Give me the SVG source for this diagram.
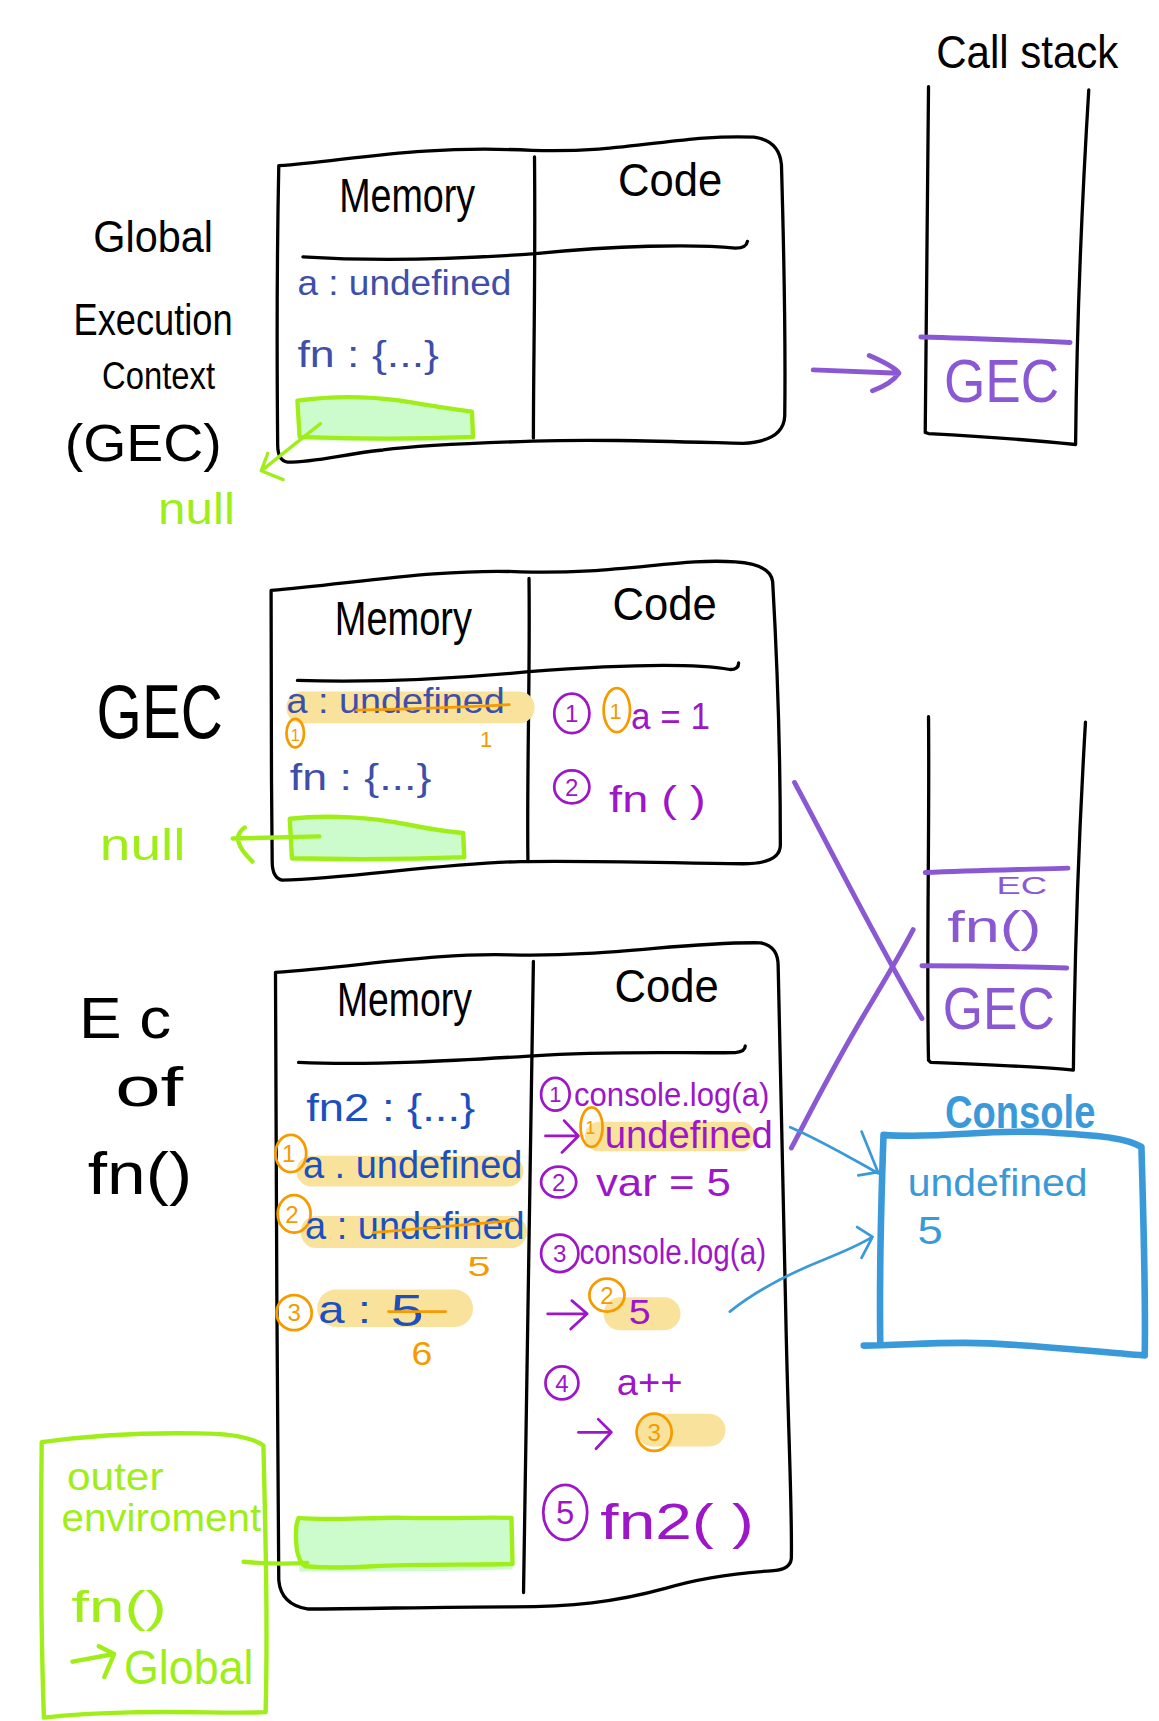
<svg xmlns="http://www.w3.org/2000/svg" width="1159" height="1721" viewBox="0 0 1159 1721">
<style>
text{font-family:"Liberation Sans","DejaVu Sans",sans-serif;}
.k{fill:#000}
.b1{fill:#3f4fa8}
.b2{fill:#1d4fbf}
.p{fill:#9d16c8}
.sp{fill:#8b58d4}
.o{fill:#f59b00}
.g{fill:#9fee1a}
.cb{fill:#3a9ad9}
.ln{fill:none;stroke:#000;stroke-width:3;stroke-linecap:round;stroke-linejoin:round}
.pl{fill:none;stroke:#8b58d4;stroke-width:4.5;stroke-linecap:round;stroke-linejoin:round}
.pc{fill:none;stroke:#9d16c8;stroke-width:2.5;stroke-linecap:round;stroke-linejoin:round}
.oc{fill:none;stroke:#f59b00;stroke-width:2.5;stroke-linecap:round;stroke-linejoin:round}
.hl{fill:#f8e29c}
.gf{fill:#ccfccc}
.gs{fill:none;stroke:#9fee1a;stroke-width:4;stroke-linecap:round;stroke-linejoin:round}
.cbx{fill:none;stroke:#3a9ad9;stroke-width:6;stroke-linecap:round;stroke-linejoin:round}
.ca{fill:none;stroke:#3a9ad9;stroke-width:2.5;stroke-linecap:round;stroke-linejoin:round}
</style>
<rect width="1159" height="1721" fill="#fff"/>
<g transform="scale(1.09754)">

<g id="gec-label">
<text class="k" x="85" y="230" font-size="40" textLength="109" lengthAdjust="spacingAndGlyphs">Global</text>
<text class="k" x="67" y="305" font-size="40" textLength="145" lengthAdjust="spacingAndGlyphs">Execution</text>
<text class="k" x="93" y="354" font-size="36" textLength="103" lengthAdjust="spacingAndGlyphs">Context</text>
<text class="k" x="59" y="420" font-size="48" textLength="143" lengthAdjust="spacingAndGlyphs">(GEC)</text>
</g>

<g id="call-stack-title">
<text class="k" x="853" y="62" font-size="42" textLength="166" lengthAdjust="spacingAndGlyphs">Call stack</text>
</g>

<g id="callstack-1">
<path class="ln" d="M846,79 C845,200 843,300 843,394 L846,395 C900,398 950,402 980,405 C981,300 986,180 992,82"/>
<path class="pl" d="M839,307 C880,308 930,310 975,312"/>
<text class="sp" x="860" y="366" font-size="56" textLength="105" lengthAdjust="spacingAndGlyphs">GEC</text>
</g>

<g id="gec-box-1">
<path class="ln" d="M254,151 C320,146 380,132 485,137 C570,140 620,122 687,125 Q710,128 712,150 C714,220 716,300 715,379 Q714,402 677,404 C600,402 540,400 485,402 C420,404 380,406 349,410 C310,414 290,421 262,421 Q253,420 253,405 C252,300 253,200 254,151 Z"/>
<path class="ln" d="M487,143 C488,250 486,330 486,399"/>
<path class="ln" d="M276,234 C340,238 420,236 488,231 C560,224 630,222 670,226 Q680,226 681,220"/>
<text class="k" x="309" y="193" font-size="44" textLength="124" lengthAdjust="spacingAndGlyphs">Memory</text>
<text class="k" x="563" y="179" font-size="42" textLength="95" lengthAdjust="spacingAndGlyphs">Code</text>
<text class="b1" x="271" y="269" font-size="32" textLength="195" lengthAdjust="spacingAndGlyphs">a : undefined</text>
<text class="b1" x="271" y="334" font-size="34" textLength="129" lengthAdjust="spacingAndGlyphs">fn : {...}</text>
<path class="gf" d="M273,366 C320,361 360,364 400,370 C415,372 425,374 431,375 L432,401 C380,403 320,402 275,401 Z"/>
<path class="gs" d="M271,365 C300,361 335,361 365,365 C395,370 415,373 430,375 L431,398 C380,400 320,400 273,398 Z"/>
<text class="g" x="144" y="477" font-size="40" textLength="70" lengthAdjust="spacingAndGlyphs">null</text>
</g>

<g id="gec-box-2-label">
<text class="k" x="88" y="672" font-size="70" textLength="115" lengthAdjust="spacingAndGlyphs">GEC</text>
</g>

<g id="gec-box-2">
<path class="ln" d="M247,538 C320,532 400,518 474,521 C560,524 620,508 670,512 Q702,514 704,530 C708,600 711,700 711,770 Q711,787 677,787 C600,786 540,784 474,785 C400,787 320,800 257,802 Q248,800 248,785 C247,700 247,600 247,538 Z"/>
<path class="ln" d="M482,527 C483,620 480,700 481,784"/>
<path class="ln" d="M271,620 C340,622 420,618 482,612 C560,606 630,604 665,610 Q673,610 673,604"/>
<text class="k" x="305" y="579" font-size="44" textLength="125" lengthAdjust="spacingAndGlyphs">Memory</text>
<text class="k" x="558" y="565" font-size="42" textLength="95" lengthAdjust="spacingAndGlyphs">Code</text>
<rect class="hl" x="261" y="630" width="226" height="29" rx="14"/>
<text class="b1" x="261" y="650" font-size="32" textLength="199" lengthAdjust="spacingAndGlyphs">a : undefined</text>
<path class="oc" d="M325,647 C380,646 430,644 464,642"/>
<ellipse class="oc" cx="269" cy="668" rx="8" ry="13"/>
<text class="o" x="269" y="675" font-size="15" text-anchor="middle">1</text>
<text class="o" x="443" y="681" font-size="20" text-anchor="middle">1</text>
<ellipse class="pc" cx="521" cy="650" rx="16" ry="18"/>
<text class="p" x="521" y="658" font-size="22" text-anchor="middle">1</text>
<ellipse class="oc" cx="562" cy="647" rx="12" ry="20"/>
<text class="o" x="561" y="655" font-size="20" text-anchor="middle">1</text>
<text class="p" x="575" y="664" font-size="34" textLength="72" lengthAdjust="spacingAndGlyphs">a = 1</text>
<text class="b1" x="264" y="720" font-size="34" textLength="129" lengthAdjust="spacingAndGlyphs">fn : {...}</text>
<ellipse class="pc" cx="521" cy="717" rx="16" ry="15"/>
<text class="p" x="521" y="725" font-size="22" text-anchor="middle">2</text>
<text class="p" x="555" y="740" font-size="34" textLength="88" lengthAdjust="spacingAndGlyphs">fn ( )</text>
<path class="gf" d="M266,747 C310,743 350,746 380,752 C400,755 415,757 423,758 L424,784 C370,786 310,786 266,785 Z"/>
<path class="gs" d="M264,746 C300,742 340,745 370,751 C395,756 410,758 422,759 L423,781 C370,783 310,783 266,782 Z"/>
<text class="g" x="91" y="784" font-size="40" textLength="78" lengthAdjust="spacingAndGlyphs">null</text>
</g>

<g id="callstack-2">
<path class="ln" d="M846,653 C847,760 844,880 846,966 L848,968 C900,970 950,972 978,975 C979,880 983,760 989,658"/>
<path class="pl" d="M843,795 C890,793 940,792 973,791"/>
<path class="pl" d="M840,880 C890,880 940,881 972,882"/>
<text class="sp" x="908" y="815" font-size="22" textLength="46" lengthAdjust="spacingAndGlyphs">EC</text>
<text class="sp" x="863" y="858" font-size="40" textLength="86" lengthAdjust="spacingAndGlyphs">fn()</text>
<text class="sp" x="859" y="938" font-size="54" textLength="102" lengthAdjust="spacingAndGlyphs">GEC</text>
</g>

<g id="ec-fn-label">
<text class="k" x="72" y="946" font-size="52" textLength="84" lengthAdjust="spacingAndGlyphs">E c</text>
<text class="k" x="105" y="1008" font-size="50" textLength="62" lengthAdjust="spacingAndGlyphs">of</text>
<text class="k" x="80" y="1088" font-size="54" textLength="95" lengthAdjust="spacingAndGlyphs">fn()</text>
</g>

<g id="ec-fn-box">
<path class="ln" d="M251,886 C330,880 400,868 465,870 C560,872 620,858 693,859 Q709,862 709,880 C712,1000 714,1100 716,1200 C718,1300 722,1380 721,1420 Q720,1430 705,1431 C660,1434 630,1440 607,1447 C560,1460 520,1464 467,1464 C400,1464 330,1466 280,1466 Q256,1462 254,1440 C252,1300 252,1000 251,886 Z"/>
<path class="ln" d="M486,876 C484,1100 478,1300 477,1451"/>
<path class="ln" d="M272,968 C340,971 420,966 486,962 C560,957 630,960 670,959 Q679,958 679,953"/>
<text class="k" x="307" y="926" font-size="44" textLength="123" lengthAdjust="spacingAndGlyphs">Memory</text>
<text class="k" x="560" y="913" font-size="42" textLength="95" lengthAdjust="spacingAndGlyphs">Code</text>

<text class="b2" x="279" y="1021" font-size="36" textLength="154" lengthAdjust="spacingAndGlyphs">fn2 : {...}</text>

<rect class="hl" x="270" y="1053" width="207" height="28" rx="14"/>
<ellipse class="oc" cx="265" cy="1051" rx="14" ry="17"/>
<text class="o" x="263" y="1059" font-size="22" text-anchor="middle">1</text>
<text class="b2" x="276" y="1073" font-size="36" textLength="200" lengthAdjust="spacingAndGlyphs">a . undefined</text>

<rect class="hl" x="274" y="1108" width="206" height="29" rx="14"/>
<ellipse class="oc" cx="268" cy="1106" rx="15" ry="17"/>
<text class="o" x="266" y="1114" font-size="22" text-anchor="middle">2</text>
<text class="b2" x="278" y="1129" font-size="36" textLength="200" lengthAdjust="spacingAndGlyphs">a : undefined</text>
<path class="oc" d="M340,1123 C390,1119 430,1115 468,1112"/>
<text class="o" x="426" y="1163" font-size="26" textLength="21" lengthAdjust="spacingAndGlyphs">5</text>

<rect class="hl" x="289" y="1175" width="142" height="34" rx="17"/>
<ellipse class="oc" cx="268" cy="1196" rx="16" ry="16"/>
<text class="o" x="268" y="1204" font-size="22" text-anchor="middle">3</text>
<text class="b2" x="290" y="1205" font-size="36" textLength="48" lengthAdjust="spacingAndGlyphs">a :</text>
<text class="b2" x="356" y="1208" font-size="40" textLength="30" lengthAdjust="spacingAndGlyphs">5</text>
<path class="oc" d="M354,1195 L406,1195"/>
<text class="o" x="375" y="1244" font-size="30" textLength="19" lengthAdjust="spacingAndGlyphs">6</text>

<path class="gf" d="M269,1385 C330,1381 400,1383 467,1382 L467,1430 C400,1432 330,1432 273,1432 Z"/>
<path class="gs" d="M272,1383 C300,1386 340,1382 370,1383 C410,1384 440,1382 466,1383 L467,1425 C430,1426 380,1425 340,1427 C310,1429 290,1428 278,1427 Q268,1420 270,1390 Z"/>

<ellipse class="pc" cx="506" cy="997" rx="13" ry="15"/>
<text class="p" x="506" y="1004" font-size="20" text-anchor="middle">1</text>
<text class="p" x="523" y="1008" font-size="30" textLength="178" lengthAdjust="spacingAndGlyphs">console.log(a)</text>

<rect class="hl" x="533" y="1022" width="155" height="27" rx="13"/>
<path class="pc" d="M497,1035 L527,1035 M514,1021 L527,1035 L512,1050"/>
<ellipse class="oc" cx="539" cy="1027" rx="10" ry="18"/>
<text class="o" x="538" y="1033" font-size="16" text-anchor="middle">1</text>
<text class="p" x="551" y="1046" font-size="36" textLength="153" lengthAdjust="spacingAndGlyphs">undefined</text>

<ellipse class="pc" cx="509" cy="1077" rx="16" ry="14"/>
<text class="p" x="509" y="1085" font-size="22" text-anchor="middle">2</text>
<text class="p" x="543" y="1090" font-size="36" textLength="123" lengthAdjust="spacingAndGlyphs">var = 5</text>

<ellipse class="pc" cx="510" cy="1142" rx="17" ry="17"/>
<text class="p" x="510" y="1150" font-size="22" text-anchor="middle">3</text>
<text class="p" x="528" y="1152" font-size="32" textLength="170" lengthAdjust="spacingAndGlyphs">console.log(a)</text>

<rect class="hl" x="550" y="1182" width="70" height="30" rx="15"/>
<path class="pc" d="M499,1197 L535,1197 M521,1185 L535,1197 L520,1211"/>
<ellipse class="oc" cx="553" cy="1180" rx="16" ry="15"/>
<text class="o" x="553" y="1188" font-size="22" text-anchor="middle">2</text>
<text class="p" x="573" y="1206" font-size="32" textLength="20" lengthAdjust="spacingAndGlyphs">5</text>

<ellipse class="pc" cx="512" cy="1260" rx="15" ry="15"/>
<text class="p" x="512" y="1268" font-size="22" text-anchor="middle">4</text>
<text class="p" x="562" y="1271" font-size="34" textLength="60" lengthAdjust="spacingAndGlyphs">a++</text>

<rect class="hl" x="580" y="1288" width="81" height="30" rx="15"/>
<path class="pc" d="M527,1305 L557,1305 M545,1293 L557,1305 L543,1320"/>
<ellipse class="oc" cx="596" cy="1305" rx="16" ry="17"/>
<text class="o" x="596" y="1313" font-size="22" text-anchor="middle">3</text>

<ellipse class="pc" cx="515" cy="1378" rx="20" ry="25"/>
<text class="p" x="515" y="1389" font-size="30" text-anchor="middle">5</text>
<text class="p" x="547" y="1402" font-size="46" textLength="140" lengthAdjust="spacingAndGlyphs">fn2( )</text>
</g>

<g id="outer-environment">
<path class="gs" d="M38,1314 C80,1308 120,1305 180,1306 C210,1306 230,1310 240,1317 C242,1400 244,1480 242,1560 C200,1562 120,1556 40,1565 C37,1480 37,1400 38,1314 Z"/>
<text class="g" x="61" y="1358" font-size="36" textLength="88" lengthAdjust="spacingAndGlyphs">outer</text>
<text class="g" x="56" y="1395" font-size="36" textLength="182" lengthAdjust="spacingAndGlyphs">enviroment</text>
<text class="g" x="65" y="1478" font-size="40" textLength="87" lengthAdjust="spacingAndGlyphs">fn()</text>
<path class="gs" d="M66,1514 L104,1507 M90,1500 L104,1507 L95,1528"/>
<text class="g" x="113" y="1534" font-size="44" textLength="118" lengthAdjust="spacingAndGlyphs">Global</text>
</g>

<g id="console">
<text class="cb" x="861" y="1028" font-size="42" font-weight="bold" textLength="137" lengthAdjust="spacingAndGlyphs">Console</text>
<path class="cbx" d="M805,1034 C860,1038 900,1028 960,1032 C1000,1035 1025,1036 1040,1045 C1042,1120 1044,1180 1043,1235 C1000,1232 950,1226 900,1224 C860,1222 820,1226 787,1226 M802,1222 C801,1150 803,1090 805,1034"/>
<text class="cb" x="827" y="1090" font-size="36" textLength="164" lengthAdjust="spacingAndGlyphs">undefined</text>
<text class="cb" x="836" y="1133" font-size="36" textLength="23" lengthAdjust="spacingAndGlyphs">5</text>
</g>

<g id="connectors">
<path class="gs" style="stroke-width:3" d="M292,386 L238,429 M244,413 L238,429 L258,437"/>
<path class="gs" d="M291,762 L212,764 M223,754 Q208,764 230,785"/>
<path class="gs" d="M222,1423 C245,1425 265,1425 280,1424"/>
<path class="pl" d="M741,337 C770,338 795,339 819,340 M792,324 Q815,334 819,340 Q812,350 795,356"/>
<path class="pl" d="M724,713 C760,780 800,860 840,928"/>
<path class="pl" d="M721,1046 C740,1010 760,970 790,920 C805,895 820,870 832,847"/>
<path class="ca" d="M720,1027 C750,1040 775,1055 800,1069 M785,1031 L800,1068 L782,1071"/>
<path class="ca" d="M665,1195 C690,1175 720,1160 750,1148 C770,1140 785,1133 795,1127 M781,1118 L795,1127 L785,1146"/>
</g>

</g>
</svg>
